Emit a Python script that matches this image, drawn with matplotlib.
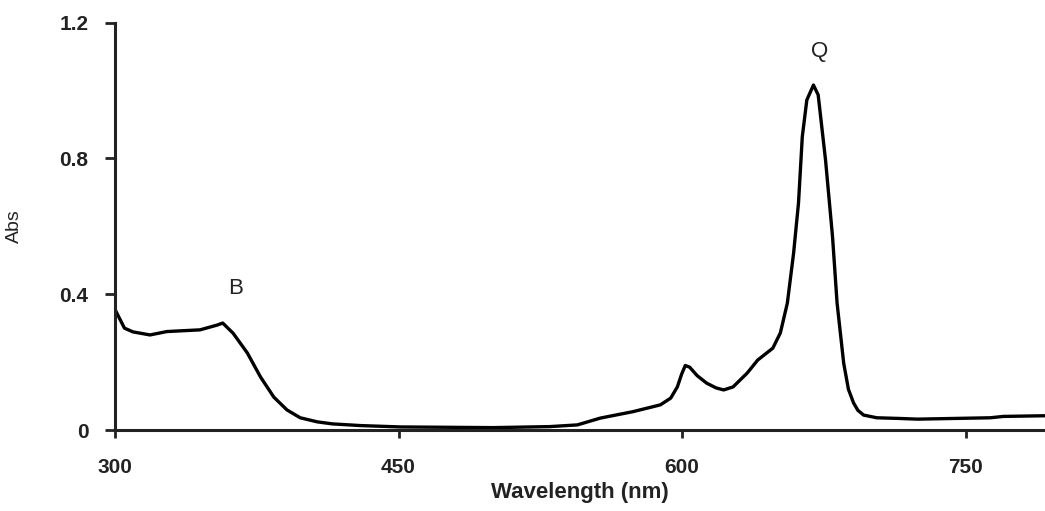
import matplotlib
matplotlib.use("Agg")
import matplotlib.pyplot as plt

# absorption spectrum
wavelength = [300, 305, 309.5, 318.5, 327.5, 345, 354, 357, 362.5, 370, 377, 384, 391, 398,
              407, 415, 430, 451, 500, 530, 544.6, 556.7, 574, 588.5, 594, 597.5, 599.8, 601.7,
              604, 608, 613, 618, 622, 627, 634.5, 640, 648, 652, 655.7, 659, 661.6, 663.6,
              666, 669.5, 672, 675.9, 679.6, 682, 685.5, 688, 690.7, 693, 696, 703, 715,
              724.6, 763, 770, 792]
absorbance = [0.355, 0.300, 0.289, 0.280, 0.290, 0.295, 0.309, 0.315, 0.285, 0.227, 0.156,
              0.097, 0.059, 0.036, 0.024, 0.018, 0.013, 0.009, 0.007, 0.010, 0.015, 0.035,
              0.054, 0.074, 0.094, 0.127, 0.165, 0.190, 0.185, 0.160, 0.138, 0.124, 0.118,
              0.127, 0.168, 0.206, 0.241, 0.286, 0.374, 0.521, 0.669, 0.864, 0.972, 1.016,
              0.987, 0.795, 0.569, 0.374, 0.197, 0.120, 0.080, 0.058, 0.044, 0.036, 0.034,
              0.032, 0.036, 0.040, 0.042]

x_ticks = [300, 450, 600, 750]
y_ticks = [0, 0.4, 0.8, 1.2]
y_labels = ["0", "0.4", "0.8", "1.2"]
peaks = [("B", 364, 0.385), ("Q", 673, 1.085)]

fig = plt.figure(figsize=(10.45, 5.11), dpi=100)
ax = fig.add_axes([115 / 1045, 81 / 511, 930 / 1045, 407.4 / 511])

ax.plot(wavelength, absorbance, color="black", linewidth=2.4, solid_joinstyle="round")

ax.set_xlim(300, 792)
ax.set_ylim(0, 1.2)
ax.set_xticks(x_ticks)
ax.set_yticks(y_ticks)
ax.set_yticklabels(y_labels)

for side in ["top", "right"]:
    ax.spines[side].set_visible(False)
for side in ["left", "bottom"]:
    ax.spines[side].set_linewidth(2.2)
    ax.spines[side].set_color("#222222")

ax.tick_params(axis="y", direction="out", length=7, width=2, pad=12, colors="#222222",
               labelsize=15)
ax.tick_params(axis="x", direction="out", length=6, width=2, pad=14, colors="#222222",
               labelsize=15)
for lab in ax.get_xticklabels() + ax.get_yticklabels():
    lab.set_fontweight("bold")
    lab.set_family("Liberation Sans")

ax.set_xlabel("Wavelength (nm)", fontsize=16, fontweight="bold", family="Liberation Sans",
              labelpad=4, color="#222222")
ax.set_ylabel("Abs", fontsize=14, family="Liberation Sans", labelpad=26, color="#222222")

for name, px, py in peaks:
    ax.text(px, py, name, fontsize=16, family="Liberation Sans", ha="center", va="bottom",
            color="#222222")

fig.savefig("out.png", dpi=100)
